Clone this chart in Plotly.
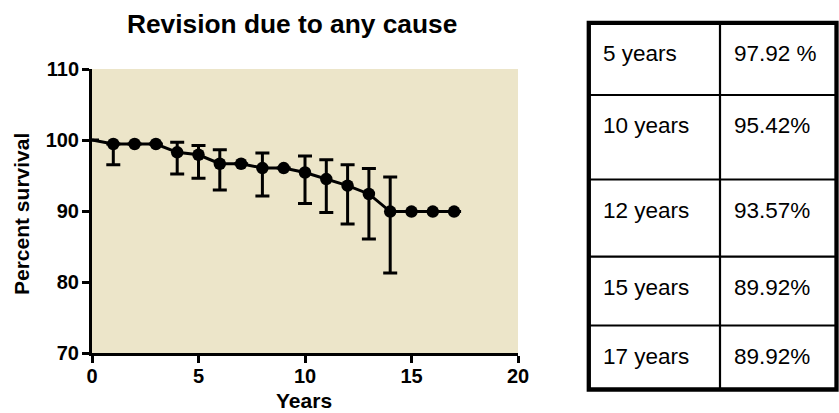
import plotly.graph_objects as go

# ---------------- data ----------------
years = list(range(0, 18))
survival = [100, 99.44, 99.44, 99.44, 98.26, 97.92, 96.66, 96.66, 96.05, 96.05,
            95.42, 94.5, 93.57, 92.4, 89.92, 89.92, 89.92, 89.92]
ci_upper = [None, 99.44, None, None, 99.7, 99.24, 98.63, None, 98.17, None,
            97.75, 97.23, 96.5, 96.0, 94.8, None, None, None]
ci_lower = [None, 96.5, None, None, 95.2, 94.6, 92.96, None, 92.1, None,
            91.07, 89.8, 88.17, 86.06, 81.27, None, None, None]

x_ticks = [0, 5, 10, 15, 20]
y_ticks = [70, 80, 90, 100, 110]

table_labels = ["5 years", "10 years", "12 years", "15 years", "17 years"]
table_values = ["97.92 %", "95.42%", "93.57%", "89.92%", "89.92%"]

# ---------------- layout geometry (window pixels) ----------------
W, H = 839, 413
PLOT_L, PLOT_R, PLOT_T, PLOT_B = 92, 518, 69, 353
L, T, R, B = PLOT_L, PLOT_T, W - PLOT_R, H - PLOT_B
PW, PH = W - L - R, H - T - B


def px_x(px):
    return (px - PLOT_L) / PW


def px_y(py):
    return (PLOT_B - py) / PH


err_plus = [(u - s) if u is not None else None for u, s in zip(ci_upper, survival)]
err_minus = [(s - lo) if lo is not None else None for lo, s in zip(ci_lower, survival)]
marker_sizes = [0] + [12.5] * (len(years) - 1)

FONT = "Liberation Sans, Arial, Helvetica, sans-serif"

fig = go.Figure()
fig.add_trace(go.Scatter(
    x=years, y=survival, mode="lines+markers",
    line=dict(color="black", width=3),
    marker=dict(color="black", size=marker_sizes, opacity=1,
                line=dict(color="black", width=0)),
    error_y=dict(type="data", symmetric=False, array=err_plus, arrayminus=err_minus,
                 color="black", thickness=3, width=7),
    showlegend=False, cliponaxis=False, hoverinfo="skip",
))

shapes = []
# table grid
col_px = [588.8, 720, 836.5]
row_px = [22.8, 95, 179.5, 256.7, 325.5, 389.5]
shapes.append(dict(type="rect", xref="paper", yref="paper",
                   x0=px_x(col_px[0]), x1=px_x(col_px[-1]),
                   y0=px_y(row_px[0]), y1=px_y(row_px[-1]),
                   line=dict(color="black", width=4.3), fillcolor="white", layer="below"))
shapes.append(dict(type="line", xref="paper", yref="paper",
                   x0=px_x(col_px[1]), x1=px_x(col_px[1]),
                   y0=px_y(row_px[0]), y1=px_y(row_px[-1]),
                   line=dict(color="black", width=2.2)))
for rp in row_px[1:-1]:
    shapes.append(dict(type="line", xref="paper", yref="paper",
                       x0=px_x(col_px[0]), x1=px_x(col_px[-1]),
                       y0=px_y(rp), y1=px_y(rp),
                       line=dict(color="black", width=2.2)))

annotations = []
for i, (lab, val) in enumerate(zip(table_labels, table_values)):
    yc = px_y(row_px[i] + 30.5)
    annotations.append(dict(xref="paper", yref="paper", x=px_x(601), y=yc,
                            xanchor="left", yanchor="middle", showarrow=False,
                            text=lab, font=dict(family=FONT, size=22.5, color="black")))
    annotations.append(dict(xref="paper", yref="paper", x=px_x(732), y=yc,
                            xanchor="left", yanchor="middle", showarrow=False,
                            text=val, font=dict(family=FONT, size=22.5, color="black")))

# title
annotations.append(dict(xref="paper", yref="paper", x=px_x(291.5), y=px_y(24),
                        xanchor="center", yanchor="middle", showarrow=False,
                        text="Revision due to any cause",
                        font=dict(family=FONT, size=26.3, color="black", weight="bold")))
# axis titles
annotations.append(dict(xref="paper", yref="paper", x=px_x(304), y=px_y(400),
                        xanchor="center", yanchor="middle", showarrow=False,
                        text="Years",
                        font=dict(family=FONT, size=21, color="black", weight="bold")))
annotations.append(dict(xref="paper", yref="paper", x=px_x(21), y=px_y(214),
                        xanchor="center", yanchor="middle", showarrow=False, textangle=-90,
                        text="Percent survival",
                        font=dict(family=FONT, size=21, color="black", weight="bold")))

fig.update_layout(
    width=W, height=H,
    margin=dict(l=L, r=R, t=T, b=B, pad=0, autoexpand=False),
    paper_bgcolor="white", plot_bgcolor="rgb(236,229,201)",
    font=dict(family=FONT, color="black"),
    shapes=shapes, annotations=annotations,
    xaxis=dict(range=[0, 20], tickvals=x_ticks, ticks="outside", ticklen=7, tickwidth=3,
               tickcolor="black", showline=True, linewidth=3, linecolor="black",
               showgrid=False, zeroline=False, automargin=False, ticklabelstandoff=-4,
               tickfont=dict(family=FONT, size=20, color="black", weight="bold")),
    yaxis=dict(range=[70, 110], tickvals=y_ticks, ticks="outside", ticklen=7, tickwidth=3,
               tickcolor="black", showline=True, linewidth=3, linecolor="black",
               showgrid=False, zeroline=False, automargin=False, ticklabelstandoff=-1,
               tickfont=dict(family=FONT, size=20, color="black", weight="bold")),
)

fig.write_html("out.html", config={"displayModeBar": False},
               post_script="document.body.style.margin='0';document.body.style.overflow='hidden';")
